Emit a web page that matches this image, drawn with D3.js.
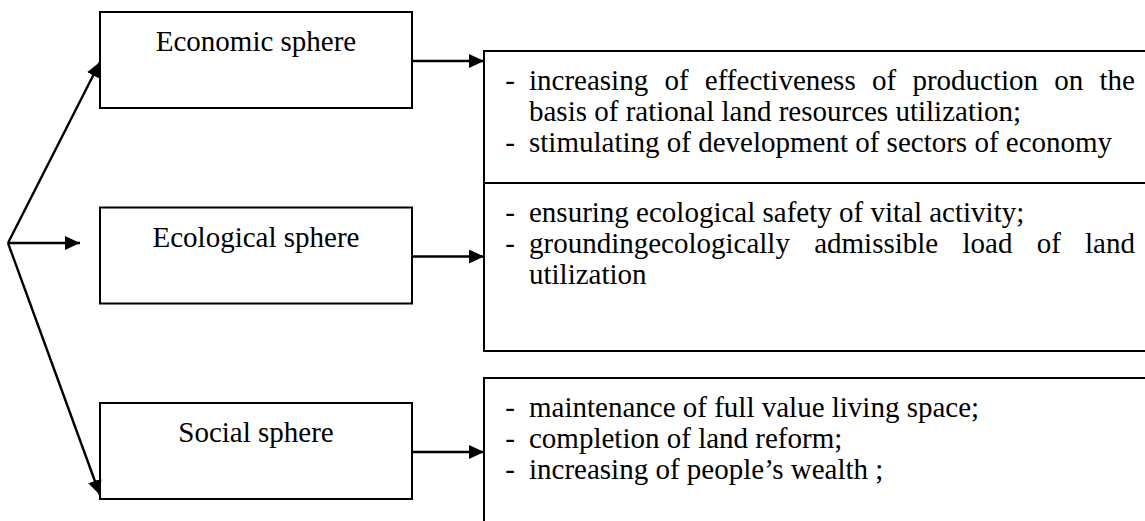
<!DOCTYPE html>
<html>
<head>
<meta charset="utf-8">
<script src="https://cdn.jsdelivr.net/npm/d3@7"></script>
<style>
    body { margin: 0; background: #fff; }
    text { font-family: "Liberation Serif", "Times New Roman", Times, serif; font-size: 29px; fill: #000; }
</style>
</head>
<body>
<svg></svg>
<script>
// spheres and what each one leads to
const spheres = ["Economic sphere", "Ecological sphere", "Social sphere"];
const economicItems = [
    "increasing of effectiveness of production on the basis of rational land resources utilization;",
    "stimulating of development of sectors of economy"
];
const ecologicalItems = [
    "ensuring ecological safety of vital activity;",
    "groundingecologically admissible load of land utilization"
];
const socialItems = [
    "maintenance of full value living space;",
    "completion of land reform;",
    "increasing of people\u2019s wealth ;"
];
const details = [economicItems, ecologicalItems, socialItems];

const width = 1145,
    height = 521,
    boxLeft = 100,
    boxWidth = 312,
    boxHeight = 96,
    detailLeft = 484,
    textLeft = 529,
    textRight = 1135,
    lineHeight = 31;

const svg = d3.select("svg").attr("width", width).attr("height", height);

const leftY = d3.scalePoint().domain(spheres).range([12, 403]);
const detailTop = d3.scaleOrdinal().domain(spheres).range([51, 183, 378]);
const detailBottom = d3.scaleOrdinal().domain(spheres).range([183, 351, 560]);

svg.append("defs")
    .append("marker")
    .attr("id", "arrow")
    .attr("viewBox", "0 0 15 14")
    .attr("refX", 15)
    .attr("refY", 7)
    .attr("markerWidth", 15)
    .attr("markerHeight", 14)
    .attr("markerUnits", "userSpaceOnUse")
    .attr("orient", "auto")
    .append("path")
    .attr("d", "M0,0L15,7L0,14Z")
    .attr("fill", "#000");

const arrow = (x1, y1, x2, y2) => {
    svg.append("line")
        .attr("x1", x1).attr("y1", y1)
        .attr("x2", x2).attr("y2", y2)
        .attr("stroke", "#000")
        .attr("stroke-width", 2.4)
        .attr("marker-end", "url(#arrow)");
};

// left boxes
const left = svg.selectAll(".sphere")
    .data(spheres)
    .enter()
    .append("g")
    .attr("class", "sphere");

left.append("rect")
    .attr("x", boxLeft)
    .attr("y", (d) => leftY(d))
    .attr("width", boxWidth)
    .attr("height", boxHeight)
    .attr("fill", "none")
    .attr("stroke", "#000")
    .attr("stroke-width", 2);

left.append("text")
    .attr("x", boxLeft + boxWidth / 2)
    .attr("y", (d) => leftY(d) + 39)
    .attr("text-anchor", "middle")
    .text((d) => d);

// right boxes
spheres.forEach((s) => {
    svg.append("rect")
        .attr("x", detailLeft)
        .attr("y", detailTop(s))
        .attr("width", width + 20 - detailLeft)
        .attr("height", detailBottom(s) - detailTop(s))
        .attr("fill", "none")
        .attr("stroke", "#000")
        .attr("stroke-width", 2);
});

// fan of arrows from the left point
const origin = [8, 243];
arrow(origin[0], origin[1], boxLeft, leftY(spheres[0]) + 50);
arrow(origin[0], origin[1], 80, origin[1]);
arrow(origin[0], origin[1], boxLeft, leftY(spheres[2]) + 92);

spheres.forEach((s) => {
    const y = leftY(s) + boxHeight / 2 + 1;
    arrow(boxLeft + boxWidth, y, detailLeft, y);
});

// text wrapping and justification
const measure = svg.append("text").attr("x", -2000).attr("y", -2000);
const textWidth = (s) => {
    measure.text(s);
    return measure.node().getComputedTextLength();
};
const wrapWidth = textRight - textLeft;

const wrap = (item) => {
    const lines = [];
    let cur = [];
    item.split(" ").forEach((w) => {
        const test = cur.concat(w);
        if (cur.length && textWidth(test.join(" ")) > wrapWidth) {
            lines.push(cur);
            cur = [w];
        } else {
            cur = test;
        }
    });
    lines.push(cur);
    return lines.map((words, i) => ({
        words: words,
        first: i === 0,
        justify: i < lines.length - 1
    }));
};

spheres.forEach((s, si) => {
    let y = detailTop(s) + 39;
    details[si].forEach((item) => {
        wrap(item).forEach((line) => {
            if (line.first) {
                svg.append("text")
                    .attr("x", 510)
                    .attr("y", y)
                    .attr("text-anchor", "middle")
                    .text("-");
            }
            if (line.justify && line.words.length > 1) {
                const widths = line.words.map(textWidth);
                const gap = (wrapWidth - d3.sum(widths)) / (line.words.length - 1);
                let x = textLeft;
                const t = svg.append("text").attr("y", y);
                line.words.forEach((w, i) => {
                    t.append("tspan").attr("x", x).text(w);
                    x += widths[i] + gap;
                });
            } else {
                svg.append("text")
                    .attr("x", textLeft)
                    .attr("y", y)
                    .text(line.words.join(" "));
            }
            y += lineHeight;
        });
    });
});

measure.remove();
</script>
</body>
</html>
